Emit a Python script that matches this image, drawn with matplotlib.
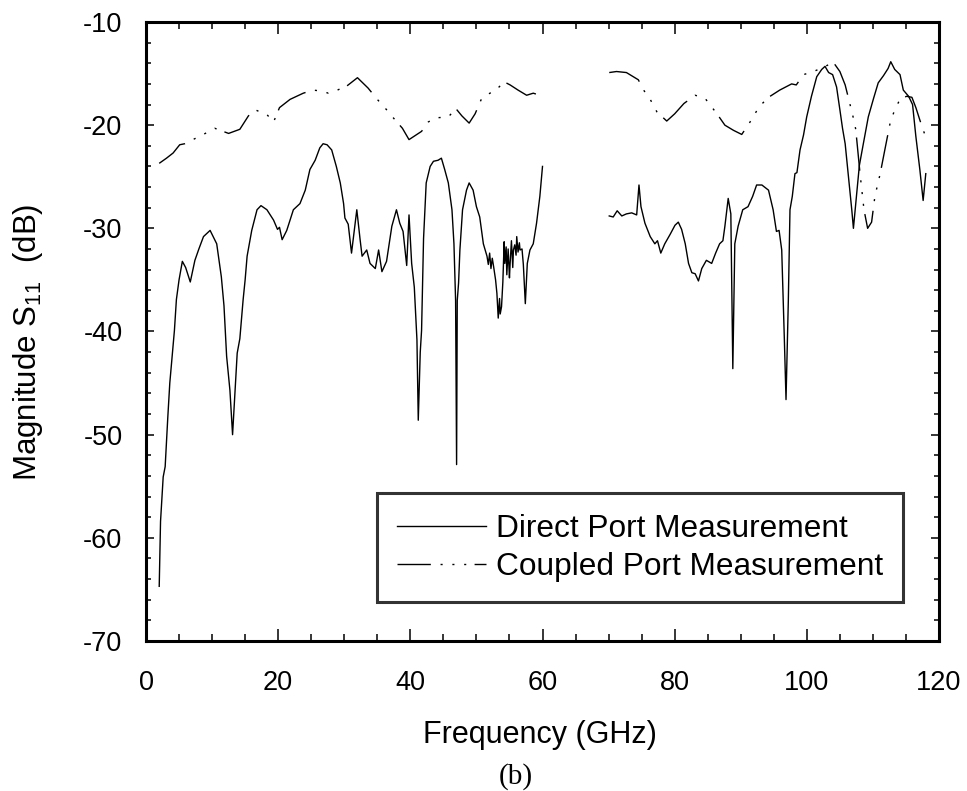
import matplotlib
matplotlib.use("Agg")
import matplotlib.pyplot as plt
from matplotlib.ticker import MultipleLocator
from matplotlib.lines import Line2D

plt.rcParams['font.family'] = ['Liberation Sans', 'DejaVu Sans']
plt.rcParams['mathtext.fontset'] = 'custom'
plt.rcParams['mathtext.rm'] = 'Liberation Sans'
plt.rcParams['mathtext.it'] = 'Liberation Sans:italic'
plt.rcParams['axes.unicode_minus'] = False

# Direct port measurement, 2-60 GHz band
direct_f_low = [
    2.0, 2.2, 2.6, 2.9, 3.3, 3.6, 4.0, 4.3, 4.6, 5.0,
    5.5, 6.0, 6.7, 7.4, 8.0, 8.7, 9.7, 10.7, 11.4, 11.8,
    12.2, 12.7, 13.1, 13.5, 13.8, 14.2, 14.7, 15.0, 15.3, 16.0,
    16.8, 17.4, 18.3, 19.3, 19.9, 20.2, 20.6, 21.3, 22.3, 23.3,
    24.1, 24.8, 25.6, 26.3, 26.8, 27.4, 28.1, 28.8, 29.4, 29.9,
    30.1, 30.6, 31.1, 31.9, 32.4, 32.7, 33.4, 33.9, 34.7, 35.2,
    35.7, 36.4, 37.2, 37.9, 38.4, 38.9, 39.45, 39.8, 40.2, 40.6,
    41.0, 41.2, 41.5, 41.7, 42.0, 42.4, 43.0, 43.5, 44.2, 44.7,
    45.2, 45.75, 46.3, 46.6, 46.85, 47.0, 47.1, 47.3, 47.5, 47.9,
    48.5, 48.9, 49.5, 50.0, 50.5, 51.05, 51.6, 51.8, 52.0, 52.2,
    52.4, 52.6, 52.9, 53.1, 53.3, 53.5, 53.6, 53.8, 54.0, 54.2,
    54.3, 54.5, 54.6, 54.8, 55.0, 55.1, 55.3, 55.5, 55.6, 55.8,
    56.0, 56.1, 56.3, 56.5, 56.6, 56.9, 57.1, 57.4, 57.7, 58.1,
    58.6, 59.1, 59.6, 60.0,
]
direct_db_low = [
    -64.7, -58.4, -54.1, -53.1, -48.3, -45.0, -42.1, -39.9, -36.9, -35.0,
    -33.2, -33.8, -35.2, -33.1, -32.0, -30.8, -30.2, -31.5, -34.7, -37.5,
    -42.4, -45.7, -50.0, -45.5, -42.1, -40.7, -36.9, -35.0, -32.7, -30.2,
    -28.2, -27.8, -28.2, -29.2, -30.1, -29.9, -31.1, -30.2, -28.2, -27.6,
    -26.3, -24.3, -23.4, -22.2, -21.8, -21.9, -22.4, -24.0, -25.6, -27.6,
    -29.0, -29.6, -32.4, -28.2, -31.1, -32.7, -32.1, -33.4, -33.9, -32.1,
    -34.2, -33.2, -29.8, -28.2, -29.5, -30.3, -33.6, -28.7, -33.4, -35.7,
    -40.8, -48.6, -42.0, -39.9, -31.0, -25.6, -24.0, -23.5, -23.4, -23.2,
    -24.3, -25.6, -28.2, -31.5, -37.0, -52.9, -37.0, -35.3, -32.1, -28.2,
    -26.3, -25.6, -26.3, -27.9, -28.9, -31.5, -32.7, -33.5, -32.4, -33.9,
    -32.9, -33.7, -35.0, -36.3, -38.7, -36.8, -38.3, -37.6, -35.2, -31.3,
    -33.4, -31.8, -34.5, -32.0, -34.8, -33.4, -31.2, -33.8, -32.1, -31.6,
    -32.6, -30.8, -32.3, -31.4, -32.1, -32.0, -33.5, -37.3, -33.4, -32.1,
    -31.5, -29.5, -26.9, -24.0,
]

# Direct port measurement, 70-118 GHz band
direct_f_high = [
    70.1, 70.7, 71.3, 72.0, 72.7, 73.5, 74.25, 74.6, 74.9, 75.5,
    76.3, 77.0, 77.4, 77.9, 78.5, 79.3, 80.05, 80.55, 81.05, 81.6,
    82.1, 82.6, 83.1, 83.6, 84.1, 84.8, 85.6, 86.2, 86.8, 87.3,
    87.6, 88.1, 88.5, 88.8, 89.1, 89.6, 90.3, 91.1, 91.8, 92.4,
    93.2, 94.2, 94.9, 95.4, 95.8, 96.2, 96.6, 96.85, 97.2, 97.45,
    97.8, 98.2, 98.5, 98.97, 99.5, 99.98, 100.7, 101.5, 102.25, 102.75,
    103.3, 103.9, 104.5, 105.0, 105.4, 105.8, 106.3, 106.8, 107.05, 107.55,
    107.95, 108.55, 109.3, 110.1, 110.8, 111.6, 112.3, 112.7, 113.3, 114.1,
    114.6, 115.4, 116.0, 116.5, 117.1, 117.6, 118.0,
]
direct_db_high = [
    -28.8, -28.9, -28.3, -28.8, -28.6, -28.5, -28.7, -25.8, -27.9, -29.5,
    -30.8, -31.5, -31.2, -32.4, -31.5, -30.6, -29.7, -29.4, -30.1, -31.5,
    -33.4, -34.3, -34.4, -35.1, -33.9, -33.1, -33.4, -32.4, -31.5, -31.2,
    -29.8, -27.1, -28.6, -43.6, -31.5, -29.8, -28.2, -27.9, -26.9, -25.8,
    -25.8, -26.3, -28.2, -30.3, -30.2, -32.1, -40.8, -46.6, -37.0, -28.2,
    -26.9, -24.7, -24.6, -22.4, -20.95, -19.2, -17.2, -15.3, -14.6, -14.3,
    -14.9, -15.1, -16.3, -18.5, -20.3, -21.8, -25.0, -28.2, -30.0, -26.6,
    -23.9, -21.8, -19.2, -17.4, -15.9, -15.2, -14.5, -13.85, -14.6, -15.1,
    -16.6, -17.2, -18.0, -21.1, -24.3, -27.3, -24.7,
]

# Coupled port measurement, 2-60 GHz band
coupled_f_low = [
    2.0, 3.1, 4.1, 5.1, 5.85, 6.76, 8.4, 10.4, 12.5, 14.2,
    15.5, 16.5, 17.2, 18.2, 19.3, 20.2, 21.8, 23.8, 25.3, 26.6,
    27.6, 28.6, 30.4, 32.0, 33.6, 35.0, 36.4, 37.7, 38.8, 39.8,
    41.7, 42.7, 43.7, 45.75, 46.9, 47.8, 48.9, 49.8, 50.8, 52.3,
    52.8, 54.2, 55.1, 56.3, 57.6, 58.6, 59.6, 60.0,
]
coupled_db_low = [
    -23.7, -23.2, -22.7, -21.9, -21.8, -21.5, -21.0, -20.3, -20.8, -20.4,
    -19.1, -18.5, -18.7, -18.9, -19.7, -18.3, -17.5, -16.9, -16.6, -16.7,
    -16.9, -16.7, -16.2, -15.4, -16.4, -17.5, -18.5, -19.5, -20.3, -21.4,
    -20.6, -19.7, -19.3, -19.2, -18.4, -19.1, -19.8, -18.9, -17.4, -16.8,
    -16.7, -15.8, -16.1, -16.6, -17.1, -16.9, -17.1, -17.5,
]

# Coupled port measurement, 70-118 GHz band
coupled_f_high = [
    70.1, 71.2, 72.7, 74.5, 75.3, 76.3, 77.3, 78.8, 80.0, 81.4,
    83.1, 84.6, 86.4, 87.6, 88.9, 90.15, 91.4, 92.8, 94.2, 95.9,
    97.7, 98.4, 99.5, 101.0, 102.5, 104.0, 105.0, 105.8, 106.5, 107.0,
    107.4, 108.05, 108.65, 109.2, 109.8, 110.3, 111.1, 111.8, 112.6, 113.3,
    114.1, 115.1, 115.9, 116.5, 117.1, 117.9,
]
coupled_db_high = [
    -14.9, -14.8, -14.9, -15.6, -16.6, -17.5, -18.7, -19.6, -18.9, -17.9,
    -17.1, -17.4, -18.9, -20.0, -20.5, -20.9, -19.7, -18.2, -17.3, -16.6,
    -16.0, -16.1, -15.1, -14.8, -14.4, -13.9, -14.8, -16.1, -17.9, -19.2,
    -20.4, -24.7, -28.2, -30.0, -29.4, -26.9, -24.7, -22.4, -19.8, -18.5,
    -17.5, -17.2, -17.3, -18.3, -19.5, -21.0,
]

series_labels = ["Direct Port Measurement", "Coupled Port Measurement"]
x_ticks = [0, 20, 40, 60, 80, 100, 120]
y_ticks = [-70, -60, -50, -40, -30, -20, -10]

dash_dot_dot = (0, (24, 7, 1.5, 7, 1.5, 7, 1.5, 6))

fig = plt.figure(figsize=(9.67, 7.91), dpi=100)
ax = fig.add_axes([146 / 967, 1 - 641 / 791, 793 / 967, 619 / 791])

line_kw = dict(color="black", linewidth=1.0)
ax.plot(direct_f_low, direct_db_low, **line_kw)
ax.plot(direct_f_high, direct_db_high, **line_kw)
ax.plot(coupled_f_low, coupled_db_low, linestyle=dash_dot_dot, **line_kw)
ax.plot(coupled_f_high, coupled_db_high, linestyle=dash_dot_dot, **line_kw)

ax.set_xlim(0, 120)
ax.set_ylim(-70, -10)
ax.set_xticks(x_ticks)
ax.set_yticks(y_ticks)
ax.xaxis.set_minor_locator(MultipleLocator(5))
ax.yaxis.set_minor_locator(MultipleLocator(2))

for side in ax.spines.values():
    side.set_linewidth(2.2)

ax.tick_params(which="both", direction="in", top=True, right=True,
               labelsize=19.5, width=1.1, color="black")
ax.tick_params(axis="x", which="major", length=8.5, pad=21)
ax.tick_params(axis="x", which="minor", length=5)
ax.tick_params(axis="y", which="major", length=6, pad=17)
ax.tick_params(axis="y", which="minor", length=3.5)

fig.text(540 / 967, 1 - 743 / 791, "Frequency (GHz)", fontsize=22,
         ha="center", va="baseline")
fig.text(28 / 967, 1 - 342 / 791,
         r"Magnitude S$\mathregular{_{11}}$  (dB)", fontsize=22.5,
         rotation=90, ha="center", va="center")
fig.text(516 / 967, 1 - 784 / 791, "(b)", fontsize=21,
         family=["Liberation Serif", "DejaVu Serif"],
         ha="center", va="baseline")

handles = [
    Line2D([], [], color="black", linewidth=1.0),
    Line2D([], [], color="black", linewidth=1.0, linestyle=dash_dot_dot),
]
leg = ax.legend(handles, series_labels,
                loc="center",
                bbox_to_anchor=(0.291, 0.0614, 0.664, 0.178),
                bbox_transform=ax.transAxes,
                fontsize=22.8, frameon=True, fancybox=False,
                edgecolor="black", handlelength=2.8, handletextpad=0.3,
                labelspacing=0.25, borderpad=0.65, borderaxespad=0)
leg.get_frame().set_linewidth(2.2)

fig.savefig("out.png", dpi=100)
